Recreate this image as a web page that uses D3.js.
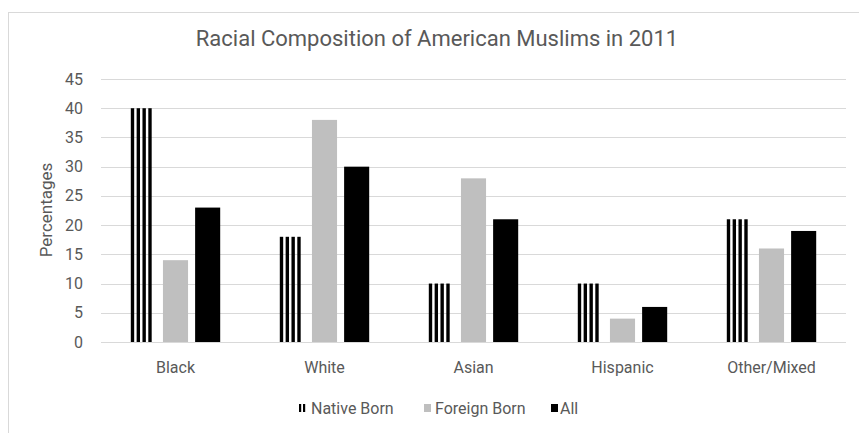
<!DOCTYPE html>
<html>
<head>
<meta charset="utf-8">
<script src="https://cdn.jsdelivr.net/npm/d3@7"></script>
<style>
  body { margin: 0; background: #fff; }
  text { font-family: Roboto, "Liberation Sans", sans-serif; fill: #595959; }
</style>
</head>
<body>
<svg id="chart"></svg>
<script>
const categories = ["Black", "White", "Asian", "Hispanic", "Other/Mixed"];
const seriesNames = ["Native Born", "Foreign Born", "All"];
const nativeBorn = [40, 18, 10, 10, 21];
const foreignBorn = [14, 38, 28, 4, 16];
const allMuslims = [23, 30, 21, 6, 19];
const yTicks = [0, 5, 10, 15, 20, 25, 30, 35, 40, 45];

const width = 859;
const height = 433;
const margin = { top: 79, right: 13, bottom: 91, left: 101 };

const svg = d3.select("#chart").attr("width", width).attr("height", height);

// chart frame
svg.append("rect")
    .attr("x", 8.5).attr("y", 12.5)
    .attr("width", 860).attr("height", 430)
    .attr("fill", "none").attr("stroke", "#d9d9d9");

const x0 = d3.scaleBand()
    .domain(categories)
    .range([margin.left, width - margin.right])
    .paddingInner(0.4).paddingOuter(0.2);

const x1 = d3.scaleBand()
    .domain(seriesNames)
    .range([0, x0.bandwidth()])
    .paddingInner(0.22).paddingOuter(0);

const y = d3.scaleLinear()
    .domain([0, 45])
    .range([height - margin.bottom, margin.top]);

// gridlines
svg.append("g")
    .selectAll("line")
    .data(yTicks)
    .enter()
    .append("line")
    .attr("x1", margin.left).attr("x2", width - margin.right)
    .attr("y1", d => Math.round(y(d)) + 0.5).attr("y2", d => Math.round(y(d)) + 0.5)
    .attr("stroke", "#d9d9d9");

// y tick labels
svg.append("g")
    .selectAll("text")
    .data(yTicks)
    .enter()
    .append("text")
    .attr("x", 83)
    .attr("y", d => y(d))
    .attr("dy", "0.35em")
    .attr("text-anchor", "end")
    .style("font-size", "16px")
    .text(d => d);

// title
svg.append("text")
    .attr("x", 437).attr("y", 46)
    .attr("text-anchor", "middle")
    .style("font-size", "22px")
    .text("Racial Composition of American Muslims in 2011");

// y label
svg.append("text")
    .attr("transform", "translate(52,210) rotate(-90)")
    .attr("text-anchor", "middle")
    .style("font-size", "17px")
    .text("Percentages");

// category labels
svg.append("g")
    .selectAll("text")
    .data(categories)
    .enter()
    .append("text")
    .attr("x", d => x0(d) + x0.bandwidth() / 2)
    .attr("y", 373)
    .attr("text-anchor", "middle")
    .style("font-size", "16px")
    .text(d => d);

const rows = categories.map((c, i) => ({
    category: c,
    values: [nativeBorn[i], foreignBorn[i], allMuslims[i]]
}));

const groups = svg.append("g")
    .selectAll("g")
    .data(rows)
    .enter()
    .append("g")
    .attr("transform", d => `translate(${x0(d.category)},0)`);

// native born: vertical stripes
const stripeCount = 4;
groups.each(function(d) {
    const g = d3.select(this);
    const bx = x1("Native Born");
    const bw = x1.bandwidth();
    const step = bw / 4.3;
    d3.range(stripeCount).forEach(k => {
        g.append("rect")
            .attr("x", bx + k * step)
            .attr("y", y(d.values[0]))
            .attr("width", step * 0.58)
            .attr("height", y(0) - y(d.values[0]))
            .attr("fill", "#000");
    });
});

// foreign born
groups.append("rect")
    .attr("x", x1("Foreign Born"))
    .attr("y", d => y(d.values[1]))
    .attr("width", x1.bandwidth())
    .attr("height", d => y(0) - y(d.values[1]))
    .attr("fill", "#bfbfbf");

// all
groups.append("rect")
    .attr("x", x1("All"))
    .attr("y", d => y(d.values[2]))
    .attr("width", x1.bandwidth())
    .attr("height", d => y(0) - y(d.values[2]))
    .attr("fill", "#000");

// legend
const legend = svg.append("g").attr("transform", "translate(0,408)");
const legendItems = [
    { name: "Native Born", x: 299, tx: 311 },
    { name: "Foreign Born", x: 424, tx: 435 },
    { name: "All", x: 551, tx: 560 }
];
legendItems.forEach((item, i) => {
    if (i === 0) {
        legend.append("rect").attr("x", item.x).attr("y", -4).attr("width", 2.2).attr("height", 8).attr("fill", "#000");
        legend.append("rect").attr("x", item.x + 4).attr("y", -4).attr("width", 2.2).attr("height", 8).attr("fill", "#000");
    } else {
        legend.append("rect").attr("x", item.x).attr("y", -4).attr("width", 7).attr("height", 8)
            .attr("fill", i === 1 ? "#bfbfbf" : "#000");
    }
    legend.append("text")
        .attr("x", item.tx)
        .attr("dy", "0.35em")
        .style("font-size", "16px")
        .text(item.name);
});
</script>
</body>
</html>
